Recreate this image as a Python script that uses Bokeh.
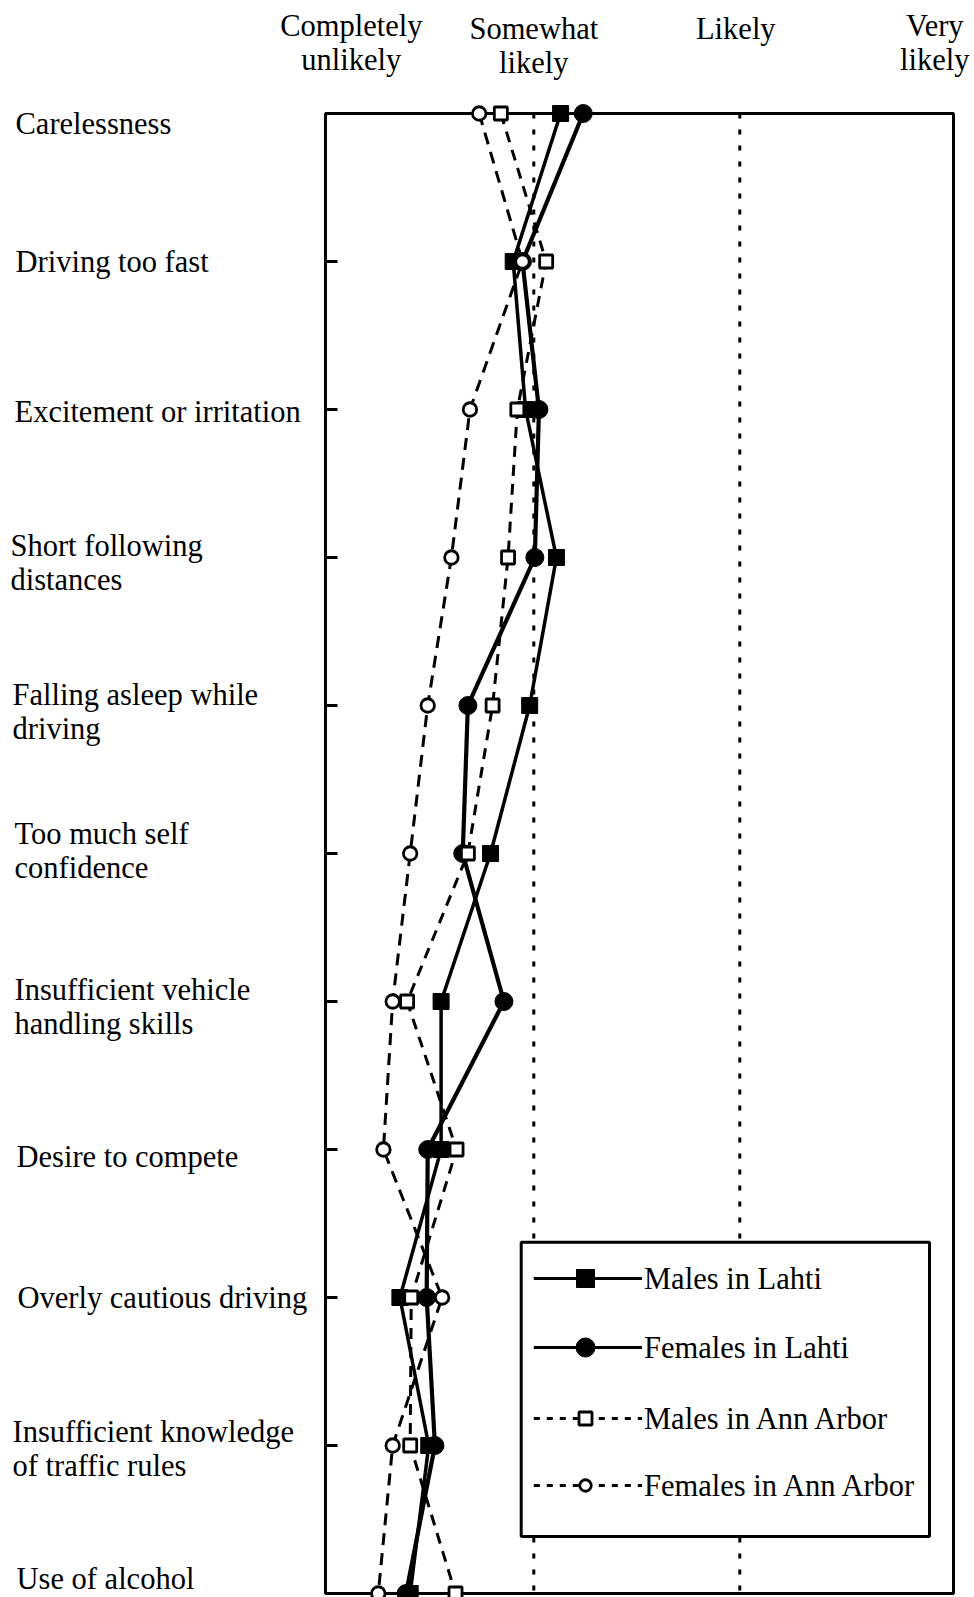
from bokeh.plotting import figure
from bokeh.models import Range1d
from bokeh.core.properties import value
from bokeh.embed import file_html
from bokeh.resources import INLINE

# ---------------- data ----------------
categories = ["Carelessness", "Driving too fast", "Excitement or irritation",
              "Short following\ndistances", "Falling asleep while\ndriving",
              "Too much self\nconfidence", "Insufficient vehicle\nhandling skills",
              "Desire to compete", "Overly cautious driving",
              "Insufficient knowledge\nof traffic rules", "Use of alcohol"]
scale_levels = [1, 2, 3, 4]
scale_labels = ["Completely\nunlikely", "Somewhat\nlikely", "Likely", "Very\nlikely"]
males_lahti = [2.13, 1.90, 1.96, 2.11, 1.98, 1.79, 1.55, 1.55, 1.35, 1.49, 1.40]
females_lahti = [2.24, 1.945, 2.025, 2.005, 1.68, 1.655, 1.855, 1.485, 1.48, 1.52, 1.38]
males_annarbor = [1.84, 2.06, 1.92, 1.875, 1.80, 1.68, 1.385, 1.625, 1.405, 1.40, 1.62]
females_annarbor = [1.735, 1.945, 1.69, 1.60, 1.485, 1.40, 1.315, 1.27, 1.555, 1.315, 1.245]
series_names = ["Males in Lahti", "Females in Lahti", "Males in Ann Arbor", "Females in Ann Arbor"]

# ---------------- layout ----------------
W, H = 974, 1597
PX = 206.0        # pixels per scale step
X1 = 327.3        # x of level 1
TOP = 113.0       # y of first category
STEP = 148.0      # pixels between categories
FONT = value("Liberation Serif")
FS = "30.5px"

def dx(px):
    return 1 + (px - X1) / PX

def dy(py):
    return (py - TOP) / STEP

n = len(categories)
ys = list(range(n))

p = figure(width=W, height=H,
           x_range=Range1d(1 - X1 / PX, 1 + (W - X1) / PX),
           y_range=Range1d((H - TOP) / STEP, -TOP / STEP),
           output_backend="svg", toolbar_location=None,
           x_axis_location=None, y_axis_location=None,
           min_border=0, outline_line_color=None,
           background_fill_color="white", border_fill_color="white")
p.grid.visible = False

# dotted reference lines at "Somewhat likely" and "Likely"
p.segment(x0=scale_levels[1:3], y0=[0, 0], x1=scale_levels[1:3], y1=[n - 1, n - 1],
          line_color="black", line_width=3, line_dash="5 11")

# frame
p.quad(left=dx(325), right=dx(953), top=0, bottom=n - 1,
       fill_color=None, line_color="black", line_width=3)
# ticks on the left edge
p.segment(x0=[dx(325)] * n, y0=ys, x1=[dx(337)] * n, y1=ys,
          line_color="black", line_width=3)

# series lines
p.line(males_lahti, ys, line_color="black", line_width=3.5)
p.line(females_lahti, ys, line_color="black", line_width=4.2)
p.line(males_annarbor, ys, line_color="black", line_width=3, line_dash="11 8")
p.line(females_annarbor, ys, line_color="black", line_width=3, line_dash="12 8")

# markers
p.scatter(males_lahti, ys, marker="square", size=16, fill_color="black", line_color="black")
p.scatter(females_lahti, ys, marker="circle", size=18, fill_color="black", line_color="black")
p.scatter(males_annarbor, ys, marker="square", size=13, fill_color="white",
          line_color="black", line_width=2.8)
p.scatter(females_annarbor, ys, marker="circle", size=13.5, fill_color="white",
          line_color="black", line_width=2.8)

# category labels (left, left-aligned)
label_x = [15, 15, 14, 10, 12, 14, 14, 16, 17, 12, 16]
label_dy = [10, 0.7, 2, -12, -10.4, -20, -11.3, 7, 0.3, -14, -15]
tx, ty, tt = [], [], []
for i, cat in enumerate(categories):
    for j, line in enumerate(cat.split("\n")):
        tx.append(dx(label_x[i]))
        ty.append(i + (label_dy[i] + j * 34) / STEP)
        tt.append(line)
p.text(x=tx, y=ty, text=tt, text_font=FONT, text_font_size=FS,
       text_align="left", text_baseline="alphabetic", text_color="black")

# header labels for the response scale
head_dx = [23.5, 0, -4, -11]
head_base = [25.3, 28.3, 28.3, 25.3]
for k, lab in enumerate(scale_labels):
    for j, line in enumerate(lab.split("\n")):
        p.text(x=[scale_levels[k] + head_dx[k] / PX], y=[dy(head_base[k] + j * 34.5)],
               text=[line], text_font=FONT, text_font_size=FS, text_align="center",
               text_baseline="alphabetic", text_color="black")

# legend (drawn box)
p.quad(left=dx(520.7), right=dx(929), top=dy(1241.7), bottom=dy(1536),
       fill_color="white", line_color="black", line_width=3)
rows = [1278, 1347, 1418, 1485]
styles = [
    dict(dash="solid", lw=3, marker="square", size=18, fill="black", mlw=1),
    dict(dash="solid", lw=3, marker="circle", size=19, fill="black", mlw=1),
    dict(dash="6 7", lw=2.8, marker="square", size=13, fill="white", mlw=2.8),
    dict(dash="6 7", lw=2.8, marker="circle", size=11.5, fill="white", mlw=2.8),
]
for name, ry, st in zip(series_names, rows, styles):
    yy = dy(ry)
    p.line([dx(533.3), dx(641.5)], [yy, yy], line_color="black",
           line_width=st["lw"], line_dash=st["dash"])
    p.scatter([dx(585)], [yy], marker=st["marker"], size=st["size"],
              fill_color=st["fill"], line_color="black", line_width=st["mlw"])
    p.text(x=[dx(643.5)], y=[dy(ry)], text=[name], text_font=FONT,
           text_font_size=FS, text_align="left", text_baseline="alphabetic",
           text_color="black")

open("out.html", "w").write(file_html(p, INLINE))
